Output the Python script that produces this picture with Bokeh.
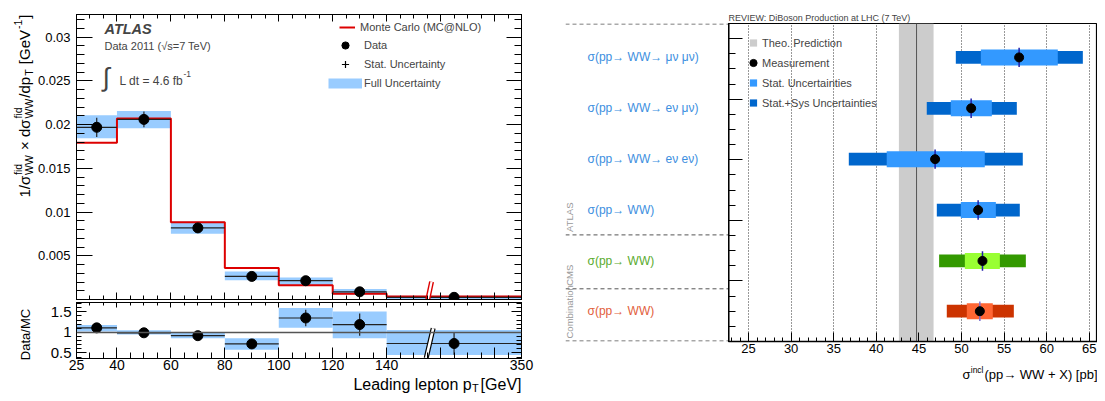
import math
from bokeh.plotting import figure
from bokeh.layouts import row, column
from bokeh.models import (Range1d, FixedTicker, LinearAxis, Label, Legend, LegendItem, Span)
from bokeh.core.properties import value
from bokeh.embed import file_html
from bokeh.resources import INLINE

FONT = "Liberation Sans"
NAN = float("nan")

# ---------------- Left panel data (leading lepton pT, GeV) ----------------
bin_edges = [25, 40, 60, 80, 100, 120, 140, 350]
data_vals = [0.0197, 0.0206, 0.00819, 0.00264, 0.00215, 0.00088, 0.00025]
data_stat = [0.0011, 0.0009, 0.0004, 0.0003, 0.0003, 0.0002, 0.0001]
full_lo = [0.01845, 0.01959, 0.00751, 0.00219, 0.00158, 0.00056, 0.00007]
full_hi = [0.02107, 0.02156, 0.00891, 0.00321, 0.00253, 0.00121, 0.00044]
mc_vals = [0.01792, 0.0207, 0.00884, 0.0036, 0.00162, 0.00066, 0.00033]

ratio_vals = [1.11, 0.99, 0.92, 0.72, 1.35, 1.19, 0.73]
ratio_stat = [0.12, 0.07, 0.06, 0.10, 0.20, 0.27, 0.27]
ratio_lo = [1.02, 0.95, 0.86, 0.58, 1.115, 0.86, 0.45]
ratio_hi = [1.18, 1.05, 1.00, 0.86, 1.59, 1.51, 1.06]

x_tick_values = [25, 40, 60, 80, 100, 120, 140, 350]
x_tick_labels = ["25", "40", "60", "80", "100", "120", "140", "350"]
y_main_ticks = [0.005, 0.01, 0.015, 0.02, 0.025, 0.03]
y_main_labels = ["0.005", "0.01", "0.015", "0.02", "0.025", "0.03"]
y_ratio_ticks = [0.5, 1, 1.5]
y_ratio_labels = ["0.5", "1", "1.5"]

AXIS_BREAK_GEV = 207      # where the broken axis is marked
COMPRESSED_FROM = 140     # above this the axis is compressed
COMPRESS = 50 / 210


def disp(v):
    d = v if v <= COMPRESSED_FROM else COMPRESSED_FROM + (v - COMPRESSED_FROM) * COMPRESS
    return int(d) if float(d).is_integer() else d


# ---------------- Right panel data (WW cross sections, pb) ----------------
row_labels = ["σ(pp→ WW→ μν μν)", "σ(pp→ WW→ eν μν)", "σ(pp→ WW→ eν eν)",
              "σ(pp→ WW)", "σ(pp→ WW)", "σ(pp→ WW)"]
row_pos = [4.69, 3.85, 3.01, 2.17, 1.33, 0.50]
meas = [56.76, 51.13, 46.9, 51.95, 52.46, 52.15]
stat_lo = [52.27, 48.74, 41.22, 49.92, 50.39, 50.62]
stat_hi = [61.3, 53.56, 52.73, 54.03, 54.5, 53.67]
tot_lo = [49.33, 45.92, 36.77, 47.1, 47.37, 48.27]
tot_hi = [64.24, 56.49, 57.19, 56.84, 57.55, 56.14]
theory = 44.72
theory_lo = 42.65
theory_hi = 46.72
group_names = ["ATLAS", "CMS", "Combination"]
group_bottoms = [1.76, 0.87, 0.0]
group_edges = [5.25, 1.76, 0.87, 0.0]
x_right_ticks = [25, 30, 35, 40, 45, 50, 55, 60, 65]

dark_cols = ["#0066cc"] * 4 + ["#339900", "#cc3300"]
light_cols = ["#3399ff"] * 4 + ["#99ff33", "#ff6633"]
label_cols = ["#3d8fe0"] * 4 + ["#5aab2e", "#e2603c"]
err_cols = ["#2020aa"] * 5 + ["#7a6fd0"]

BAND = "#99ccff"
RED = "#dd0000"


def style_axis(ax, tick_in, minor_in, font_size=None, standoff=3, lw=1):
    ax.major_tick_in = tick_in
    ax.major_tick_out = 0
    ax.minor_tick_in = minor_in
    ax.minor_tick_out = 0
    ax.axis_line_color = "black"
    ax.axis_line_width = lw
    ax.major_tick_line_color = "black"
    ax.minor_tick_line_color = "black"
    ax.axis_label = None
    if font_size:
        ax.major_label_text_font_size = font_size
        ax.major_label_text_font = FONT
        ax.major_label_text_color = "black"
        ax.major_label_standoff = standoff
    else:
        ax.major_label_text_font_size = "1px"
        ax.major_label_text_color = None
        ax.major_label_text_alpha = 0
        ax.major_label_standoff = 0


def lab(p, x, y, text, size, **kw):
    p.add_layout(Label(x=x, y=y, x_units="screen", y_units="screen", text=text,
                       text_font=FONT, text_font_size=size, **kw))


def strip(width, height, x0, y0, bl=0, br=0):
    """A blank figure whose data coordinates equal page pixels (for titles).
    bl/br: side borders, so the frame lines up with its neighbours' frames."""
    s = figure(width=width, height=height, x_range=Range1d(x0 + bl, x0 + width - br),
               y_range=Range1d(y0 + height, y0), x_axis_type=None, y_axis_type=None,
               output_backend="svg", toolbar_location=None, title=None,
               min_border_left=bl, min_border_right=br, min_border_top=0, min_border_bottom=0)
    s.outline_line_color = None
    s.grid.visible = False
    return s


def txt(s, x, y, t, size, **kw):
    s.text(x=[x], y=[y], text=[t], text_font=value(FONT), text_font_size=size,
           text_color="black", **kw)


# ---------------- common x axis (display coords) ----------------
xr = Range1d(25, disp(350))
x_major = [disp(v) for v in x_tick_values[:-1]] + [160, 180, disp(350)]
x_minor = list(range(25, disp(350) + 1, 5))
x_over = {disp(v): t for v, t in zip(x_tick_values, x_tick_labels)}
x_over.update({160: "", 180: ""})

left_c = [disp(e) for e in bin_edges[:-1]]
right_c = [disp(e) for e in bin_edges[1:]]
centers = [(a + b) / 2 for a, b in zip(left_c, right_c)]
brk = disp(AXIS_BREAK_GEV)

# ---------------- main (top-left) figure: frame page x 74..521, y 14..299 ----------------
p1 = figure(width=531, height=301, x_range=xr, y_range=Range1d(0, 0.0326),
            output_backend="svg", toolbar_location=None, title=None,
            min_border_left=40, min_border_right=44, min_border_top=14, min_border_bottom=2)
p1.grid.visible = False
p1.outline_line_color = "black"

main_minor = [i / 1000 for i in range(0, 33)]
p1.xaxis.ticker = FixedTicker(ticks=x_major, minor_ticks=x_minor)
style_axis(p1.xaxis[0], 7, 4)
p1.yaxis.ticker = FixedTicker(ticks=y_main_ticks, minor_ticks=main_minor)
style_axis(p1.yaxis[0], 16, 8, "13px", 6)
p1.yaxis.major_label_overrides = dict(zip(y_main_ticks, y_main_labels))
ax_top = LinearAxis(ticker=FixedTicker(ticks=x_major, minor_ticks=x_minor))
style_axis(ax_top, 7, 4)
p1.add_layout(ax_top, "above")
ax_r = LinearAxis(ticker=FixedTicker(ticks=y_main_ticks, minor_ticks=main_minor))
style_axis(ax_r, 15, 7)
p1.add_layout(ax_r, "right")

p1.quad(left=left_c, right=right_c, bottom=full_lo, top=full_hi, fill_color=BAND, line_color=None)
mc_r = p1.step(x=[disp(e) for e in bin_edges], y=mc_vals + mc_vals[-1:], mode="after",
               line_color=RED, line_width=2)
p1.segment(x0=left_c, x1=right_c, y0=data_vals, y1=data_vals, line_color="#222222", line_width=1.2)
p1.segment(x0=centers, x1=centers, y0=[v - e for v, e in zip(data_vals, data_stat)],
           y1=[v + e for v, e in zip(data_vals, data_stat)], line_color="#222222", line_width=1.2)
pts1 = p1.scatter(centers, data_vals, size=10, fill_color="black", line_color="black")
ytop1 = p1.y_range.end
p1.segment(x0=[brk - 0.7], x1=[brk + 0.7], y0=[0], y1=[ytop1 * 0.062], line_color=RED, line_width=5)
p1.segment(x0=[brk - 0.7], x1=[brk + 0.7], y0=[0], y1=[ytop1 * 0.062], line_color="white", line_width=2.2)

# legend-only renderers (not visible in the plot area)
dummy_cross = p1.scatter(x=[NAN], y=[NAN], marker="cross", size=8, line_color="black", line_width=1.2)
dummy_band = p1.line(x=[NAN, NAN], y=[NAN, NAN], line_color=BAND, line_width=10)

legA = Legend(items=[LegendItem(label="Monte Carlo (MC@NLO)", renderers=[mc_r])],
              location=(263, 263), glyph_width=16, glyph_height=18, label_height=18,
              label_standoff=5, padding=0, margin=0, spacing=0,
              background_fill_alpha=0, border_line_alpha=0,
              label_text_font=FONT, label_text_font_size="11px")
legB = Legend(items=[LegendItem(label="Data", renderers=[pts1]),
                     LegendItem(label="Stat. Uncertainty", renderers=[dummy_cross]),
                     LegendItem(label="Full Uncertainty", renderers=[dummy_band])],
              location=(252, 207), glyph_width=34, glyph_height=18, label_height=18,
              label_standoff=2, padding=0, margin=0, spacing=1,
              background_fill_alpha=0, border_line_alpha=0,
              label_text_font=FONT, label_text_font_size="11px")
p1.add_layout(legA)
p1.add_layout(legB)

# in-frame texts (screen units from the frame's lower-left corner)
lab(p1, 28, 271, "ATLAS", "14.5px", text_font_style="bold italic", text_baseline="middle")
lab(p1, 28, 254, "Data 2011 (√s=7 TeV)", "11px", text_baseline="middle")
lab(p1, 26, 223, "∫", "26px", text_baseline="middle")
lab(p1, 43, 219, "L dt = 4.6 fb", "12px", text_baseline="middle")
lab(p1, 107, 226, "-1", "8.5px", text_baseline="middle")

# ---------------- ratio figure: frame page x 74..521, y 302..358 ----------------
p2 = figure(width=531, height=74, x_range=xr, y_range=Range1d(0.366, 1.726),
            output_backend="svg", toolbar_location=None, title=None,
            min_border_left=40, min_border_right=44, min_border_top=1, min_border_bottom=17)
p2.grid.visible = False
p2.outline_line_color = "black"
p2.xaxis.ticker = FixedTicker(ticks=x_major, minor_ticks=x_minor)
style_axis(p2.xaxis[0], 11, 6, "14px", 1)
p2.xaxis.major_label_overrides = x_over
r_minor = [round(0.1 * i, 1) for i in range(4, 18)]
p2.yaxis.ticker = FixedTicker(ticks=y_ratio_ticks, minor_ticks=r_minor)
style_axis(p2.yaxis[0], 10, 5, "15px", 5)
p2.yaxis.major_label_overrides = dict(zip(y_ratio_ticks, y_ratio_labels))
ax_top2 = LinearAxis(ticker=FixedTicker(ticks=x_major, minor_ticks=x_minor))
style_axis(ax_top2, 5, 3)
p2.add_layout(ax_top2, "above")
ax_r2 = LinearAxis(ticker=FixedTicker(ticks=y_ratio_ticks, minor_ticks=r_minor))
style_axis(ax_r2, 10, 5)
p2.add_layout(ax_r2, "right")

p2.quad(left=left_c, right=right_c, bottom=ratio_lo, top=ratio_hi, fill_color=BAND, line_color=None)
p2.add_layout(Span(location=1, dimension="width", line_color="#555555", line_width=1.5))
p2.segment(x0=left_c, x1=right_c, y0=ratio_vals, y1=ratio_vals, line_color="#222222", line_width=1.2)
p2.segment(x0=centers, x1=centers, y0=[v - e for v, e in zip(ratio_vals, ratio_stat)],
           y1=[v + e for v, e in zip(ratio_vals, ratio_stat)], line_color="#222222", line_width=1.2)
p2.scatter(centers, ratio_vals, size=10, fill_color="black", line_color="black")
r0 = p2.y_range.start
p2.segment(x0=[brk - 1.3], x1=[brk + 1.3], y0=[r0 + 0.01], y1=[1.1], line_color="black", line_width=5)
p2.segment(x0=[brk - 1.3], x1=[brk + 1.3], y0=[r0 + 0.01], y1=[1.1], line_color="white", line_width=2.6)

# ---------------- title strips for the left panel ----------------
ytl = strip(34, 393, 0, 0)
# rotated y title pieces: (text, page_y_start, size, baseline_page_x)
ytitle = [("1/σ", 197, "15px", 24), ("fid", 174.5, "10.5px", 17), ("WW", 174.5, "10.5px", 28),
          ("× dσ", 149.5, "15px", 24), ("fid", 118, "10.5px", 17), ("WW", 118, "10.5px", 28),
          ("/dp", 97.2, "15px", 24), ("T", 75.3, "10.5px", 28), ("[GeV", 63.7, "15px", 24),
          ("-1", 28.5, "10.5px", 17), ("]", 18.2, "15px", 24)]
for t, py, sz, px in ytitle:
    txt(ytl, px, py, t, sz, angle=math.pi / 2, text_align="left", text_baseline="alphabetic")
txt(ytl, 25, 334, "Data/MC", "13px", angle=math.pi / 2, text_align="center",
    text_baseline="alphabetic")

# x title strip, frame lined up with the plots above (page x 74..521)
xt2 = strip(531, 18, 34, 375, bl=40, br=44)
txt(xt2, 521, 384, "[GeV]", "16px", text_align="right", text_baseline="middle")
txt(xt2, 478, 387, "T", "11px", text_align="right", text_baseline="middle")
txt(xt2, 471, 384, "Leading lepton p", "16px", text_align="right", text_baseline="middle")

# ---------------- right panel ----------------
yr = Range1d(0, 5.25)
p3 = figure(width=163, height=359, x_range=Range1d(0, 163), y_range=yr,
            x_axis_type=None, y_axis_type=None, output_backend="svg", toolbar_location=None,
            title=None,
            min_border_left=0, min_border_right=0, min_border_top=23, min_border_bottom=18)
p3.outline_line_color = None
p3.grid.visible = False
eps = 0.5 / 60.5
seps = [min(max(v, yr.start + eps), yr.end - eps) for v in group_edges]
p3.segment(x0=[0] * len(seps), x1=[163] * len(seps), y0=seps, y1=seps,
           line_color="#555555", line_width=1, line_dash="4 3")
p3.text(x=[22] * len(row_pos), y=row_pos, text=row_labels, text_color=label_cols,
        text_font=value(FONT), text_font_size="12px", text_baseline="middle", text_align="left")
p3.text(x=[4] * 3, y=group_bottoms, text=group_names, angle=math.pi / 2,
        text_color="#9a9a9a", text_font=value(FONT), text_font_size="9.5px",
        text_baseline="middle", text_align="left", y_offset=-3)

p4 = figure(width=369, height=359, x_range=Range1d(22.65, 22.65 + 369 / 8.52), y_range=yr,
            output_backend="svg", toolbar_location=None,
            min_border_left=0, min_border_right=0, min_border_top=23, min_border_bottom=18,
            title="REVIEW: DiBoson Production at LHC (7 TeV)")
p4.title.text_font = FONT
p4.title.text_font_size = "9px"
p4.title.text_font_style = "normal"
p4.title.align = "left"
p4.title.standoff = 2
p4.title.offset = 0
p4.outline_line_color = "black"
p4.outline_line_width = 1.2
p4.xaxis.ticker = FixedTicker(ticks=x_right_ticks, minor_ticks=list(range(23, 67)))
style_axis(p4.xaxis[0], 9, 4, "13px", 2, lw=1.5)
p4.yaxis.ticker = FixedTicker(ticks=[0, 1, 2, 3, 4, 5], minor_ticks=[0.25 * i for i in range(22)])
style_axis(p4.yaxis[0], 14, 7, None, lw=2)
p4.ygrid.visible = False
p4.xgrid.ticker = FixedTicker(ticks=x_right_ticks)
p4.xgrid.grid_line_color = "#333333"
p4.xgrid.grid_line_dash = "1 2"
p4.xgrid.grid_line_width = 1

p4.quad(left=[theory_lo], right=[theory_hi], bottom=[yr.start], top=[yr.end],
        fill_color="#cccccc", line_color=None)
p4.segment(x0=[theory], x1=[theory], y0=[yr.start], y1=[yr.end], line_color="#555555", line_width=1)
p4.hbar(y=row_pos, left=tot_lo, right=tot_hi, height=0.21, fill_color=dark_cols, line_color=None)
p4.hbar(y=row_pos, left=stat_lo, right=stat_hi, height=0.265, fill_color=light_cols, line_color=None)
p4.segment(x0=meas, x1=meas, y0=[y - 0.16 for y in row_pos], y1=[y + 0.16 for y in row_pos],
           line_color=err_cols, line_width=1.5)
meas_r = p4.scatter(meas, row_pos, size=9, fill_color="black", line_color="black")

lg_theo = p4.scatter(x=[NAN], y=[NAN], marker="square", fill_color="#cccccc", line_color=None)
lg_stat = p4.scatter(x=[NAN], y=[NAN], marker="square", fill_color="#3399ff", line_color=None)
lg_sys = p4.scatter(x=[NAN], y=[NAN], marker="square", fill_color="#0066cc", line_color=None)
leg4 = Legend(items=[LegendItem(label="Theo. Prediction", renderers=[lg_theo]),
                     LegendItem(label="Measurement", renderers=[meas_r]),
                     LegendItem(label="Stat. Uncertainties", renderers=[lg_stat]),
                     LegendItem(label="Stat.+Sys Uncertainties", renderers=[lg_sys])],
              location=(16, 229), glyph_width=18, glyph_height=19, label_height=19,
              label_standoff=0, padding=0, margin=0, spacing=1,
              background_fill_alpha=0, border_line_alpha=0,
              label_text_font=FONT, label_text_font_size="11px")
p4.add_layout(leg4)

xt4 = strip(532, 34, 565, 359)
txt(xt4, 1097, 374, "(pp→ WW + X) [pb]", "13px", text_align="right", text_baseline="middle")
txt(xt4, 983, 369, "incl", "8.5px", text_align="right", text_baseline="middle")
txt(xt4, 970, 374, "σ", "13px", text_align="right", text_baseline="middle")

left = row(ytl, column(p1, p2, xt2))
right = column(row(p3, p4), xt4)
layout = row(left, right)
open("out.html", "w").write(file_html(layout, INLINE))
